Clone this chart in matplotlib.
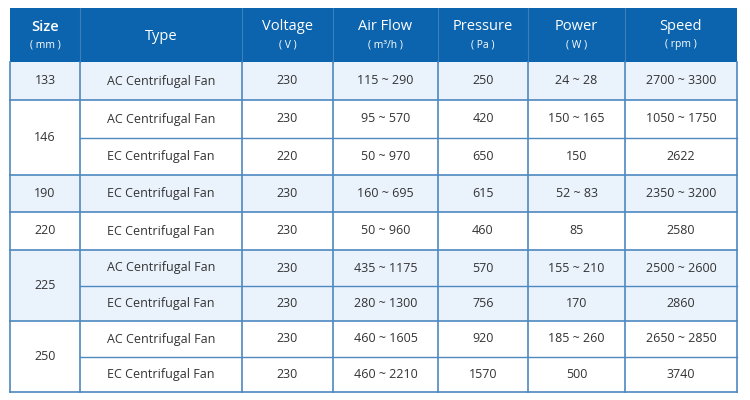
import matplotlib
matplotlib.use("Agg")
import matplotlib.pyplot as plt
from matplotlib.patches import Rectangle

headers = ["Size", "Type", "Voltage", "Air Flow", "Pressure", "Power", "Speed"]
units = ["( mm )", "", "( V )", "( m³/h )", "( Pa )", "( W )", "( rpm )"]
sizes = ["133", "146", "190", "220", "225", "250"]
group_rows = [1, 2, 1, 1, 2, 2]
types = ["AC Centrifugal Fan", "AC Centrifugal Fan", "EC Centrifugal Fan", "EC Centrifugal Fan",
         "EC Centrifugal Fan", "AC Centrifugal Fan", "EC Centrifugal Fan", "AC Centrifugal Fan",
         "EC Centrifugal Fan"]
voltage = ["230", "230", "220", "230", "230", "230", "230", "230", "230"]
airflow = ["115 ~ 290", "95 ~ 570", "50 ~ 970", "160 ~ 695", "50 ~ 960", "435 ~ 1175",
           "280 ~ 1300", "460 ~ 1605", "460 ~ 2210"]
pressure = ["250", "420", "650", "615", "460", "570", "756", "920", "1570"]
power = ["24 ~ 28", "150 ~ 165", "150", "52 ~ 83", "85", "155 ~ 210", "170", "185 ~ 260", "500"]
speed = ["2700 ~ 3300", "1050 ~ 1750", "2622", "2350 ~ 3200", "2580", "2500 ~ 2600",
         "2860", "2650 ~ 2850", "3740"]

colx = [10, 80, 242, 333, 438, 528, 625, 737]
rowy = [62, 100, 138, 175, 212, 250, 286, 321, 357, 392]
top = 8
header_c = "#0b64ad"
shade = "#eaf2fc"
line_c = "#4d88bf"
text_c = "#333333"
font = "Open Sans"

fig = plt.figure(figsize=(7.5, 4), dpi=100)
ax = fig.add_axes([0, 0, 1, 1])
ax.set_xlim(0, 750)
ax.set_ylim(400, 0)
ax.axis("off")

ax.add_patch(Rectangle((colx[0], top), colx[-1] - colx[0], rowy[0] - top, color=header_c, lw=0))
for i, (h, u) in enumerate(zip(headers, units)):
    cx = (colx[i] + colx[i + 1]) / 2
    if u:
        ax.text(cx, 27, h, ha="center", va="center", color="white", fontsize=10.5,
                family=font, weight="semibold" if i == 0 else "normal")
        ax.text(cx, 45, u, ha="center", va="center", color="white", fontsize=7.5, family=font)
    else:
        ax.text(cx, 36, h, ha="center", va="center", color="white", fontsize=10.5, family=font)
for x in colx[1:-1]:
    ax.plot([x, x], [top, rowy[0]], color="#3d7fbd", lw=0.8)

cols = [types, voltage, airflow, pressure, power, speed]
r = 0
for g, (s, n) in enumerate(zip(sizes, group_rows)):
    y0, y1 = rowy[r], rowy[r + n]
    if g % 2 == 0:
        ax.add_patch(Rectangle((colx[0], y0), colx[-1] - colx[0], y1 - y0, color=shade, lw=0))
    ax.text((colx[0] + colx[1]) / 2, (y0 + y1) / 2, s, ha="center", va="center",
            color=text_c, fontsize=9, family=font)
    for k in range(n):
        ya, yb = rowy[r + k], rowy[r + k + 1]
        for c, vals in enumerate(cols):
            ax.text((colx[c + 1] + colx[c + 2]) / 2, (ya + yb) / 2, vals[r + k], ha="center",
                    va="center", color=text_c, fontsize=9, family=font)
        if k > 0:
            ax.plot([colx[1], colx[-1]], [ya, ya], color=line_c, lw=1)
    ax.plot([colx[0], colx[-1]], [y1, y1], color=line_c, lw=1.2)
    r += n

for x in colx:
    ax.plot([x, x], [rowy[0], rowy[-1]], color=line_c, lw=1.2)

fig.savefig("out.png", dpi=100)
